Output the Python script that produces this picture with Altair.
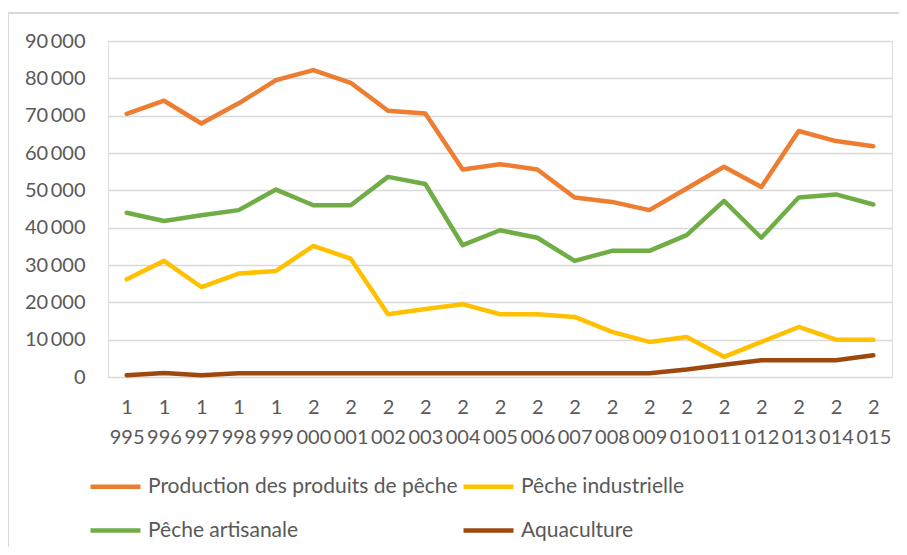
import altair as alt
import pandas as pd

years = [str(y) for y in range(1995, 2016)]

production = [70500, 74000, 67900, 73300, 79500, 82200, 78800, 71300, 70600, 55600,
              57000, 55600, 48100, 46900, 44700, 50500, 56300, 50900, 65900, 63200, 61800]
industrielle = [26200, 31100, 24100, 27700, 28400, 35100, 31700, 16800, 18200, 19500,
                16800, 16800, 16100, 12100, 9400, 10700, 5400, 9400, 13400, 10000, 10000]
artisanale = [44000, 41800, 43300, 44700, 50200, 46000, 46000, 53600, 51700, 35300,
              39300, 37300, 31100, 33800, 33800, 38000, 47200, 37300, 48100, 48900, 46200]
aquaculture = [500, 1100, 500, 1000, 1000, 1000, 1000, 1000, 1000, 1000,
               1000, 1000, 1000, 1000, 1000, 2000, 3300, 4500, 4500, 4500, 5800]

series_names = ["Production des produits de pêche", "Pêche industrielle",
                "Pêche artisanale", "Aquaculture"]
series_values = [production, industrielle, artisanale, aquaculture]
colors = ["#ED7D31", "#FFC000", "#70AD47", "#9E480E"]
y_ticks = list(range(0, 90001, 10000))

rows = []
for name, vals in zip(series_names, series_values):
    for yr, v in zip(years, vals):
        rows.append({"year": yr, "value": v, "series": name})
df = pd.DataFrame(rows)

FONT = "Lato"
TXT = "#595959"

lines = alt.Chart(df).mark_line(strokeWidth=4.5, strokeCap="round", strokeJoin="round").encode(
    x=alt.X("year:O", scale=alt.Scale(type="point", padding=0.5),
            axis=alt.Axis(title=None, labelAngle=0, ticks=False, domain=False, grid=False,
                          labelExpr="[slice(datum.label, 0, 1), slice(datum.label, 1)]",
                          labelLineHeight=30, labelPadding=20, labelFontSize=20,
                          labelColor=TXT, labelFont=FONT)),
    y=alt.Y("value:Q", scale=alt.Scale(domain=[0, 90000], nice=False),
            axis=alt.Axis(title=None, values=y_ticks, ticks=False, domain=False,
                          grid=True, gridColor="#D9D9D9", gridWidth=1.5,
                          labelExpr="replace(format(datum.value, ',d'), ',', '\u2009')",
                          labelPadding=23, labelFontSize=20, labelColor=TXT, labelFont=FONT)),
    color=alt.Color("series:N", sort=series_names,
                    scale=alt.Scale(domain=series_names, range=colors),
                    legend=alt.Legend(title=None, orient="none", legendX=-20, legendY=418,
                                      direction="horizontal", columns=2,
                                      symbolType="stroke", symbolSize=2500,
                                      symbolStrokeWidth=4.5, labelFontSize=21,
                                      labelFont=FONT, labelColor=TXT, labelOffset=5,
                                      columnPadding=-4, rowPadding=6, padding=0,
                                      labelLimit=500)),
)

border = alt.Chart(pd.DataFrame({"a": [0]})).mark_rect(
    fill=None, stroke="#D9D9D9", strokeWidth=2
).encode(x=alt.value(-100), x2=alt.value(900), y=alt.value(-28), y2=alt.value(700))

chart = alt.layer(border, lines).properties(
    width=784, height=336,
    autosize=alt.AutoSizeParams(type="none"),
    padding={"left": 100, "top": 33, "right": 7, "bottom": 170},
).configure_view(stroke=None).configure(background="white")

chart.save("out.html", embed_options={"renderer": "svg", "actions": False})
